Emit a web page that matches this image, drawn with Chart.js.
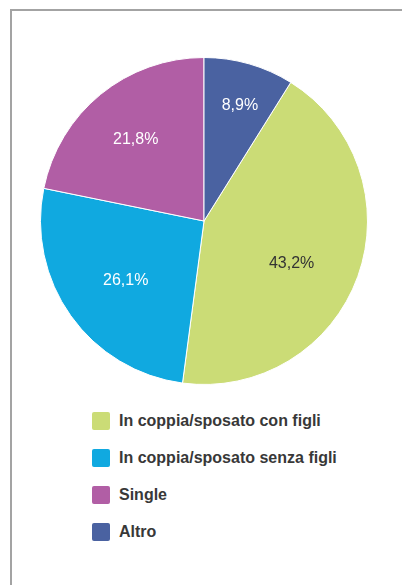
<!DOCTYPE html>
<html>
<head>
<meta charset="utf-8">
<script src="https://cdn.jsdelivr.net/npm/chart.js@4"></script>
<style>
  html, body { margin: 0; padding: 0; background: #fff; }
  body { width: 402px; height: 585px; position: relative; overflow: hidden; font-family: "Liberation Sans", Arial, sans-serif; }
  #frame { position: absolute; left: 10px; top: 9px; right: -4px; bottom: -4px; border-top: 2px solid #a3a3a3; border-left: 2px solid #a3a3a3; }
  #chartBox { position: absolute; left: 40px; top: 57px; width: 328px; height: 328px; }
  #legend { position: absolute; left: 92px; top: 412px; }
  .item { height: 18px; margin-bottom: 19px; display: flex; align-items: center; }
  .box { width: 18px; height: 18px; border-radius: 2px; margin-right: 9px; flex: none; }
  .txt { font-size: 16px; font-weight: bold; color: #383838; white-space: nowrap; }
</style>
</head>
<body>
<div id="frame"></div>
<div id="chartBox"><canvas id="myChart"></canvas></div>
<div id="legend"></div>
<script>
var categories = ["In coppia/sposato con figli", "In coppia/sposato senza figli", "Single", "Altro"];
var shares = [43.2, 26.1, 21.8, 8.9];
var sliceColors = ["#cbdc76", "#10a9e0", "#b15ea5", "#4a62a1"];
var labelColors = ["#333333", "#ffffff", "#ffffff", "#ffffff"];
// label placement: fraction of radius, and a small turn (degrees) off the slice middle
var labelRadius = [0.59, 0.595, 0.66, 0.75];
var labelTurn = [5, -1, 0, 1];

// the pie starts at the top with "Altro", so rotate the first slice by its share
var startRotation = shares[3] / 100 * 360;

var sliceLabels = {
    id: 'sliceLabels',
    afterDatasetsDraw: function(chart) {
        var ctx = chart.ctx;
        var arcs = chart.getDatasetMeta(0).data;
        ctx.save();
        ctx.font = '16px "Liberation Sans", Arial, sans-serif';
        ctx.textAlign = 'center';
        ctx.textBaseline = 'middle';
        arcs.forEach(function(arc, i) {
            var p = arc.getProps(['x', 'y', 'startAngle', 'endAngle', 'outerRadius'], true);
            var mid = (p.startAngle + p.endAngle) / 2 + labelTurn[i] * Math.PI / 180;
            var r = p.outerRadius * labelRadius[i];
            ctx.fillStyle = labelColors[i];
            ctx.fillText(shares[i].toFixed(1).replace('.', ',') + '%', p.x + Math.cos(mid) * r, p.y + Math.sin(mid) * r + 2);
        });
        ctx.restore();
    }
};

var chart = new Chart(document.getElementById('myChart').getContext('2d'), {
    type: 'pie',
    data: {
        labels: categories,
        datasets: [{
            data: shares,
            backgroundColor: sliceColors,
            borderColor: '#ffffff',
            borderWidth: 1,
            hoverOffset: 0
        }]
    },
    options: {
        responsive: true,
        maintainAspectRatio: false,
        animation: false,
        rotation: startRotation,
        layout: { padding: 0 },
        plugins: {
            legend: { display: false },
            tooltip: { enabled: false }
        }
    },
    plugins: [sliceLabels]
});

// legend below the pie
var legend = document.getElementById('legend');
categories.forEach(function(name, i) {
    var row = document.createElement('div');
    row.className = 'item';
    row.innerHTML = '<div class="box" style="background:' + sliceColors[i] + '"></div><span class="txt">' + name + '</span>';
    legend.appendChild(row);
});
</script>
</body>
</html>
